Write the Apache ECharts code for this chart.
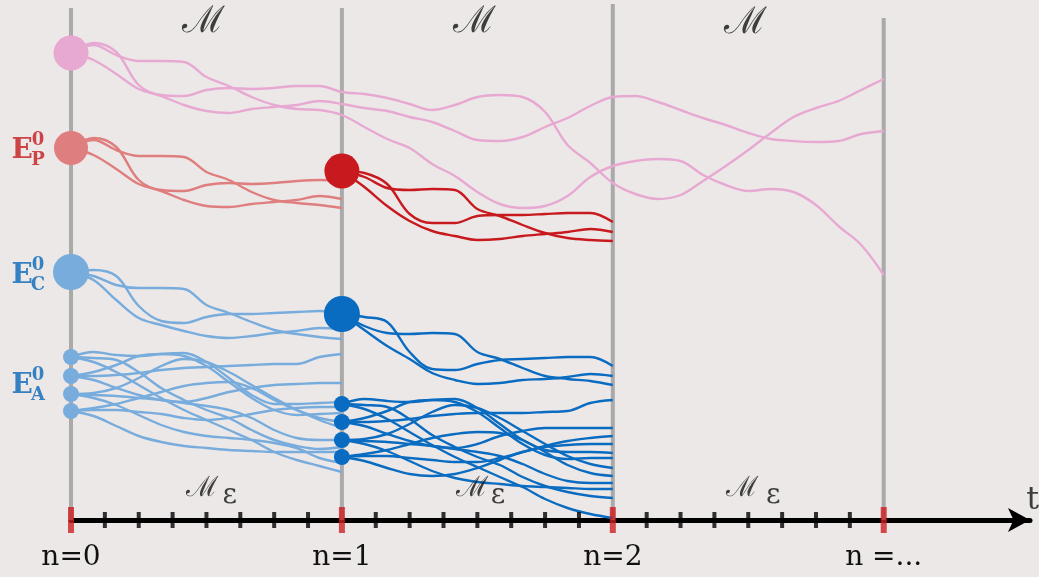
<!DOCTYPE html>
<html>
<head>
<meta charset="utf-8">
<script src="https://cdn.jsdelivr.net/npm/echarts@6/dist/echarts.min.js"></script>
<style>
  html, body { margin: 0; padding: 0; background: #ede8e8; }
  #chart { width: 1039px; height: 577px; }
</style>
</head>
<body>
<div id="chart"></div>
<script>
// Periods on the time axis and their labels
const PERIODS = [0, 1, 2, 3];
const PERIOD_LABELS = ['n=0', 'n=1', 'n=2', 'n =...'];
const PERIOD_LINE_TOPS = [51.2, 51.2, 51.6, 50.2];
const SUBSTEPS_PER_PERIOD = 8;

// Sampling instants inside one period (fraction of the period)
const SEGMENT_STEPS = [0, 0.083, 0.167, 0.25, 0.333, 0.417, 0.5, 0.583, 0.667, 0.75, 0.833, 0.917];

// Macro paths (start at n=0, run to n=3)
const pinkPaths = [
  [46.7, 47.7, 46.8, 43.5, 42.5, 42.4, 43.0, 43.2, 43.1, 43.2, 43.4, 43.4, 42.8, 42.6, 42.2, 41.6, 41.0, 41.5, 42.3, 42.5, 42.3, 40.8, 37.5, 35.7, 33.7, 32.6, 32.1, 32.5, 33.9, 35.4, 37.0, 38.7, 40.3, 41.2, 41.9, 43.0, 44.1],
  [46.7, 46.0, 44.6, 43.1, 42.4, 41.5, 40.9, 40.7, 41.1, 41.3, 41.5, 41.9, 41.6, 41.2, 40.9, 40.3, 39.8, 38.9, 38.0, 37.9, 38.3, 39.3, 40.2, 41.4, 42.3, 42.4, 41.8, 41.0, 40.2, 39.5, 38.7, 38.1, 37.9, 37.8, 37.9, 38.6, 38.9],
  [46.7, 47.5, 46.5, 45.9, 45.9, 45.8, 44.3, 43.4, 42.3, 41.5, 41.1, 41.0, 40.5, 39.3, 38.1, 37.2, 35.6, 34.4, 32.8, 31.6, 31.2, 31.4, 32.4, 34.3, 35.4, 35.9, 36.1, 35.9, 34.5, 33.5, 32.9, 33.1, 32.8, 31.5, 29.4, 27.5, 24.5]
];

// E_P paths: first period (from n=0) and second period (from n=1)
const pathsP0 = [
  [37.2, 38.2, 37.3, 34.0, 33.0, 32.9, 33.5, 33.7, 33.6, 33.7, 33.9, 34.0, 33.9],
  [37.2, 38.0, 37.0, 36.4, 36.4, 36.3, 34.8, 34.0, 32.8, 32.0, 31.7, 31.5, 31.2],
  [37.2, 36.5, 35.1, 33.6, 32.9, 32.0, 31.4, 31.3, 31.6, 31.8, 32.0, 32.4, 32.1]
];
const pathsP1 = [
  [34.9, 34.7, 33.6, 30.6, 29.7, 29.7, 30.4, 30.5, 30.5, 30.6, 30.7, 30.7, 29.8],
  [34.9, 34.3, 33.2, 33.0, 33.1, 33.0, 31.1, 30.4, 29.5, 28.7, 28.2, 28.0, 27.9],
  [34.9, 33.3, 31.4, 29.9, 28.9, 28.4, 28.0, 28.1, 28.4, 28.6, 28.8, 29.1, 28.8]
];

// E_C paths
const pathsC0 = [
  [24.8, 25.0, 24.4, 21.4, 19.9, 19.7, 20.3, 20.6, 20.6, 20.7, 20.8, 20.9, 20.7],
  [24.8, 24.4, 23.5, 23.2, 23.2, 23.1, 21.5, 20.7, 19.8, 19.0, 18.6, 18.3, 18.1],
  [24.8, 24.0, 22.0, 20.2, 19.5, 18.9, 18.4, 18.2, 18.4, 18.7, 18.9, 19.2, 19.1]
];
const pathsC1 = [
  [20.6, 20.3, 19.8, 16.8, 15.1, 15.0, 15.6, 16.0, 16.1, 16.2, 16.3, 16.3, 15.4],
  [20.6, 19.4, 18.7, 18.6, 18.7, 18.6, 16.8, 16.1, 15.2, 14.4, 14.1, 13.9, 13.5],
  [20.6, 19.0, 17.4, 16.1, 14.7, 14.0, 13.6, 13.7, 14.0, 14.1, 14.3, 14.6, 14.4]
];

// E_A paths (four starting agents, three paths each)
const pathsA0 = [
  [16.3, 16.2, 16.0, 14.8, 13.2, 12.0, 11.0, 10.2, 9.0, 8.0, 7.4, 7.1, 7.3],
  [16.3, 16.8, 16.5, 16.4, 16.6, 16.7, 15.8, 14.2, 12.5, 11.6, 11.6, 11.7, 11.8],
  [16.3, 15.8, 14.8, 13.5, 12.2, 11.0, 10.0, 9.0, 8.0, 6.8, 6.0, 5.4, 4.8],
  [14.4, 14.8, 15.5, 16.4, 16.6, 16.4, 15.4, 13.8, 12.2, 11.0, 10.5, 10.6, 10.7],
  [14.4, 14.4, 14.5, 14.7, 15.0, 15.2, 15.3, 15.4, 15.5, 15.6, 15.6, 16.3, 16.6],
  [14.4, 14.0, 13.2, 12.5, 12.0, 11.8, 12.2, 12.8, 13.2, 13.5, 13.6, 13.7, 13.7],
  [12.6, 12.7, 13.2, 14.2, 15.4, 16.1, 15.8, 14.8, 13.5, 12.2, 11.0, 10.0, 9.2],
  [12.6, 12.5, 12.4, 12.2, 12.0, 11.7, 11.4, 11.0, 10.2, 9.0, 8.2, 8.0, 8.0],
  [12.6, 12.2, 11.5, 10.5, 9.5, 8.8, 8.4, 8.2, 8.0, 7.7, 7.2, 6.2, 5.7],
  [10.9, 11.2, 11.6, 12.2, 12.8, 13.4, 13.7, 13.8, 13.2, 12.0, 11.0, 10.2, 9.8],
  [10.9, 11.0, 11.0, 10.8, 10.6, 10.2, 10.0, 10.2, 10.6, 11.0, 11.2, 11.3, 11.3],
  [10.9, 10.4, 9.4, 8.4, 7.8, 7.4, 7.2, 7.0, 6.9, 6.8, 6.8, 6.8, 6.8]
];
const pathsA1 = [
  [11.6, 11.5, 11.3, 10.1, 8.5, 7.3, 6.3, 5.5, 4.3, 3.4, 2.8, 2.4, 2.2],
  [11.6, 12.1, 11.9, 11.8, 12.0, 12.1, 11.2, 9.6, 8.0, 7.0, 6.8, 6.8, 6.7],
  [11.6, 11.1, 10.1, 8.8, 7.5, 6.3, 5.3, 4.3, 3.3, 2.1, 1.2, 0.6, 0.2],
  [9.8, 10.2, 10.9, 11.8, 12.0, 11.8, 10.8, 9.2, 7.6, 6.5, 6.1, 6.2, 6.2],
  [9.8, 9.8, 9.9, 10.1, 10.4, 10.6, 10.7, 10.7, 10.7, 10.8, 10.9, 11.7, 12.0],
  [9.8, 9.4, 8.6, 7.9, 7.4, 7.2, 7.6, 8.4, 8.9, 9.2, 9.2, 9.2, 9.2],
  [8.0, 8.1, 8.6, 9.6, 10.8, 11.5, 11.2, 10.2, 8.9, 7.6, 6.4, 5.6, 5.2],
  [8.0, 7.9, 7.8, 7.6, 7.4, 7.1, 6.8, 6.4, 5.6, 4.6, 3.9, 3.7, 3.7],
  [8.0, 7.6, 6.9, 5.9, 4.9, 4.2, 3.8, 3.6, 3.4, 3.3, 3.2, 3.1, 3.1],
  [6.3, 6.6, 7.0, 7.6, 8.2, 8.6, 8.8, 8.7, 8.0, 6.8, 5.5, 4.7, 4.4],
  [6.3, 6.4, 6.4, 6.2, 6.0, 5.8, 5.8, 6.2, 6.8, 7.4, 7.9, 8.2, 8.4],
  [6.3, 5.9, 5.2, 4.6, 4.4, 4.6, 5.2, 6.0, 6.8, 7.3, 7.5, 7.6, 7.6]
];

// Starting states: [period, level, diameter]
const nodesPink = [[0, 46.7, 35]];
const nodesP0 = [[0, 37.2, 34]];
const nodesP1 = [[1, 34.9, 35]];
const nodesC0 = [[0, 24.8, 36]];
const nodesC1 = [[1, 20.6, 36]];
const nodesA0 = [[0, 16.3, 16], [0, 14.4, 16], [0, 12.6, 16], [0, 10.9, 16]];
const nodesA1 = [[1, 11.6, 16], [1, 9.8, 16], [1, 8.0, 16], [1, 6.3, 16]];

const COLORS = {
  pink: '#e7a9d2',
  redLight: '#df7e7e',
  redDark: '#c81a1e',
  blueLight: '#77acdc',
  blueDark: '#0a6cc0',
  labelRed: '#c41a1e',
  labelBlue: '#0866b8',
  guide: '#aaaaaa',
  tickMajor: '#cc1f1f',
  ink: '#111111'
};

function pathPoints(start, levels) {
  const n = SEGMENT_STEPS.length;
  return levels.map((v, i) => [start + Math.floor(i / n) + SEGMENT_STEPS[i % n], v]);
}

function pathSeries(start, paths, color) {
  return paths.map(levels => ({
    type: 'line',
    data: pathPoints(start, levels),
    smooth: 0.35,
    symbol: 'none',
    silent: true,
    z: 3,
    lineStyle: { color: color, width: 2.4 }
  }));
}

function nodeSeries(nodes, color) {
  return {
    type: 'scatter',
    data: nodes.map(d => [d[0], d[1], d[2]]),
    symbolSize: d => d[2],
    itemStyle: { color: color, opacity: 1 },
    silent: true,
    clip: false,
    z: 5
  };
}

// Period guide lines
const guideSeries = PERIODS.map((p, i) => ({
  type: 'line',
  data: [[p, 0], [p, PERIOD_LINE_TOPS[i]]],
  symbol: 'none',
  silent: true,
  z: 1,
  lineStyle: { color: COLORS.guide, width: 4 }
}));

// Tick marks on the time axis (both sides of the line)
const majorTicks = PERIODS.map(p => [p, 0]);
const minorTicks = [];
PERIODS.slice(0, 3).forEach(p => {
  for (let k = 1; k < SUBSTEPS_PER_PERIOD; k++) minorTicks.push([p + k / SUBSTEPS_PER_PERIOD, 0]);
});

// Text annotations
const serif = 'DejaVu Serif';
function note(x, y, text, rich) {
  return { value: [x, y], label: { show: true, position: 'inside', formatter: text, rich: rich } };
}
const richM = { m: { fontFamily: serif, fontSize: 37, color: COLORS.ink } };
const richMsmall = { m: { fontFamily: serif, fontSize: 28, color: COLORS.ink } };
const richEps = { e: { fontFamily: serif, fontSize: 28, color: COLORS.ink } };
function richE(color) {
  return {
    e: { fontFamily: serif, fontWeight: 'bold', fontSize: 28, color: color },
    s: { fontFamily: serif, fontWeight: 'bold', fontSize: 18, color: color, lineHeight: 20 }
  };
}
const annotations = [
  note(0.49, 49.8, '{m|ℳ}', richM),
  note(1.49, 49.8, '{m|ℳ}', richM),
  note(2.49, 49.7, '{m|ℳ}', richM),
  note(0.484, 3.1, '{m|ℳ}', richMsmall),
  note(1.481, 3.1, '{m|ℳ}', richMsmall),
  note(2.478, 3.1, '{m|ℳ}', richMsmall),
  note(0.586, 2.4, '{e|ε}', richEps),
  note(1.576, 2.4, '{e|ε}', richEps),
  note(2.592, 2.4, '{e|ε}', richEps),
  note(-0.18, 36.9, '{e|E}', richE(COLORS.labelRed)),
  note(-0.122, 37.0, '{s|0}\n{s|P}', richE(COLORS.labelRed)),
  note(-0.18, 24.4, '{e|E}', richE(COLORS.labelBlue)),
  note(-0.122, 24.5, '{s|0}\n{s|C}', richE(COLORS.labelBlue)),
  note(-0.18, 13.4, '{e|E}', richE(COLORS.labelBlue)),
  note(-0.122, 13.5, '{s|0}\n{s|A}', richE(COLORS.labelBlue)),
  note(3.55, 1.9, '{t|t}', { t: { fontFamily: serif, fontSize: 32, color: COLORS.ink } })
];

const chart = echarts.init(document.getElementById('chart'), null, { renderer: 'canvas' });

chart.setOption({
  backgroundColor: '#ede8e8',
  animation: false,
  grid: { left: 71, right: 9, top: 0, bottom: 57 },
  xAxis: {
    type: 'value',
    min: 0,
    max: 3.54,
    interval: 1,
    axisLine: {
      show: true,
      symbol: ['none', 'arrow'],
      symbolSize: [18, 22],
      lineStyle: { color: '#000', width: 5 }
    },
    axisTick: { show: false },
    splitLine: { show: false },
    axisLabel: {
      margin: 24,
      fontFamily: serif,
      fontSize: 28,
      color: COLORS.ink,
      showMaxLabel: false,
      formatter: v => {
        const i = PERIODS.indexOf(v);
        return i >= 0 ? PERIOD_LABELS[i] : '';
      }
    }
  },
  yAxis: { type: 'value', min: 0, max: 52, show: false },
  series: [
    ...guideSeries,
    ...pathSeries(0, pinkPaths, COLORS.pink),
    ...pathSeries(0, pathsP0, COLORS.redLight),
    ...pathSeries(1, pathsP1, COLORS.redDark),
    ...pathSeries(0, pathsC0, COLORS.blueLight),
    ...pathSeries(1, pathsC1, COLORS.blueDark),
    ...pathSeries(0, pathsA0, COLORS.blueLight),
    ...pathSeries(1, pathsA1, COLORS.blueDark),
    nodeSeries(nodesPink, COLORS.pink),
    nodeSeries(nodesP0, COLORS.redLight),
    nodeSeries(nodesP1, COLORS.redDark),
    nodeSeries(nodesC0, COLORS.blueLight),
    nodeSeries(nodesC1, COLORS.blueDark),
    nodeSeries(nodesA0, COLORS.blueLight),
    nodeSeries(nodesA1, COLORS.blueDark),
    {
      type: 'scatter',
      data: minorTicks,
      symbol: 'rect',
      symbolSize: [4, 16],
      itemStyle: { color: '#000' },
      silent: true, clip: false, z: 6
    },
    {
      type: 'scatter',
      data: majorTicks,
      symbol: 'rect',
      symbolSize: [6, 26],
      itemStyle: { color: COLORS.tickMajor },
      silent: true, clip: false, z: 6
    },
    {
      type: 'scatter',
      data: annotations,
      symbolSize: 1,
      itemStyle: { color: 'rgba(0,0,0,0)' },
      silent: true, clip: false, z: 7
    }
  ]
});
</script>
</body>
</html>
